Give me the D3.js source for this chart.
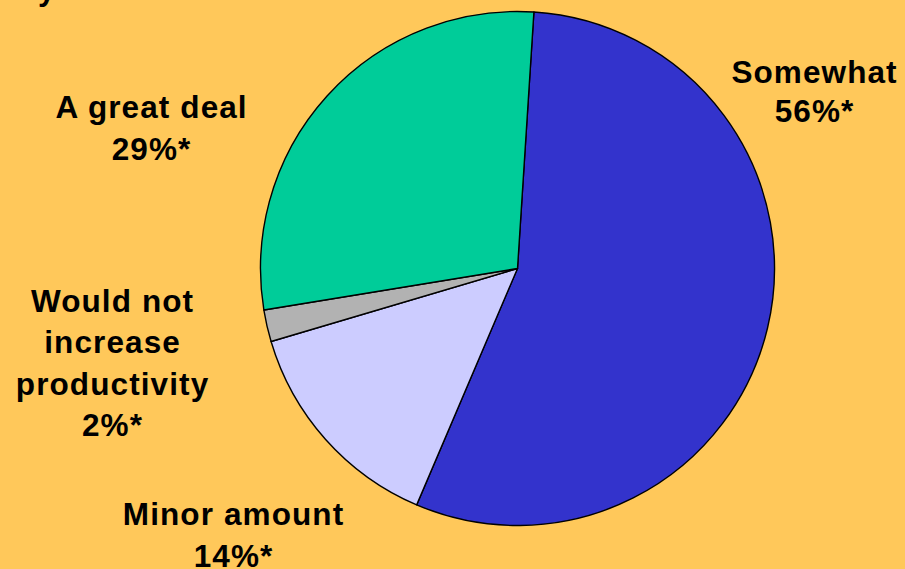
<!DOCTYPE html>
<html>
<head>
<meta charset="utf-8">
<script src="https://cdn.jsdelivr.net/npm/d3@7"></script>
<style>
  html, body { margin: 0; padding: 0; background: #FFC85A; }
  svg { display: block; }
  text { font-family: "Liberation Sans", Arial, sans-serif; font-weight: bold; fill: #000; }
</style>
</head>
<body>
<svg id="chart" width="905" height="569"></svg>
<script>
// Data (clockwise from the top)
const categories = ["Somewhat", "Minor amount", "Would not increase productivity", "A great deal"];
const values = [55.4, 14.0, 2.0, 28.6];
const valueLabels = ["56%*", "14%*", "2%*", "29%*"];
const colors = ["#3333CC", "#CCCCFF", "#B2B2B2", "#00CC99"];
const labelLines = [["Somewhat"], ["Minor amount"], ["Would not", "increase", "productivity"], ["A great deal"]];

const W = 905, H = 569;
const cx = 517.5, cy = 268.5, R = 257;
const startDeg = 3.66;
const ls = 1.1;

const svg = d3.select("#chart");
svg.append("rect").attr("width", W).attr("height", H).attr("fill", "#FFC85A");

// clipped title descender at top-left
svg.append("text").attr("x", 38).attr("y", 0).attr("font-size", 31).text("y");

const data = categories.map((c, i) => ({ name: c, value: values[i], color: colors[i], lines: labelLines[i], vl: valueLabels[i] }));

const pie = d3.pie().value(d => d.value).sort(null)
  .startAngle(startDeg * Math.PI / 180)
  .endAngle(startDeg * Math.PI / 180 + 2 * Math.PI);
const arc = d3.arc().innerRadius(0).outerRadius(R);

const g = svg.append("g").attr("transform", `translate(${cx},${cy})`);
g.selectAll("path").data(pie(data)).join("path")
  .attr("d", arc)
  .attr("fill", d => d.data.color)
  .attr("stroke", "#000")
  .attr("stroke-width", 1.4)
  .attr("stroke-linejoin", "round");

// labels: anchor positions (center x, first baseline, line height)
const labelPos = [
  { x: 814, y: 83, lh: 39 },
  { x: 233, y: 525, lh: 42 },
  { x: 112, y: 311.5, lh: 41.5 },
  { x: 151, y: 117.5, lh: 42.5 }
];
data.forEach((d, i) => {
  const p = labelPos[i];
  const t = svg.append("text").attr("text-anchor", "middle").attr("font-size", 31.5)
    .attr("letter-spacing", ls);
  const lines = d.lines.concat([d.vl]);
  lines.forEach((ln, j) => {
    t.append("tspan").attr("x", p.x + ls / 2).attr("y", p.y + j * p.lh).text(ln);
  });
});
</script>
</body>
</html>
